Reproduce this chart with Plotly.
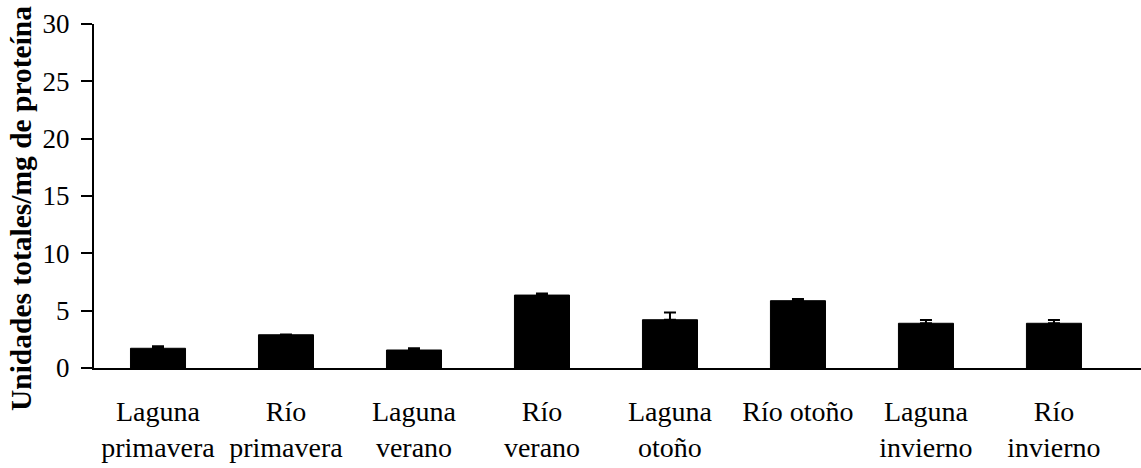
import plotly.graph_objects as go

# Enzyme activity by site and season
categories = [
    "Laguna<br>primavera", "Río<br>primavera", "Laguna<br>verano", "Río<br>verano",
    "Laguna<br>otoño", "Río otoño", "Laguna<br>invierno", "Río<br>invierno",
]
means = [1.72, 2.90, 1.57, 6.36, 4.21, 5.87, 3.90, 3.90]
errors = [0.17, 0.03, 0.15, 0.14, 0.64, 0.15, 0.28, 0.28]
y_ticks = [0, 5, 10, 15, 20, 25, 30]

FONT = "Liberation Serif, Times New Roman, serif"

fig = go.Figure(
    go.Bar(
        x=list(range(len(categories))),
        y=means,
        width=0.43,
        marker=dict(color="black", line=dict(color="black", width=1)),
        error_y=dict(type="data", array=errors, symmetric=False, arrayminus=[0] * len(errors),
                     color="black", thickness=2, width=6, visible=True),
    )
)

fig.update_layout(
    width=1141, height=468,
    margin=dict(l=94, r=0, t=24, b=100),
    paper_bgcolor="white", plot_bgcolor="white",
    showlegend=False,
    font=dict(family=FONT, color="black", size=28),
    xaxis=dict(
        tickmode="array", tickvals=list(range(len(categories))), ticktext=categories,
        range=[-0.5, 7.68], showline=True, linecolor="black", linewidth=2,
        ticks="", showgrid=False, zeroline=False,
        tickfont=dict(family=FONT, size=28, color="black"),
        ticklabelstandoff=17,
    ),
    yaxis=dict(
        range=[0, 30], tickvals=y_ticks, showline=True, linecolor="black", linewidth=2,
        ticks="outside", ticklen=11, tickwidth=2, tickcolor="black",
        showgrid=False, zeroline=False,
        tickfont=dict(family=FONT, size=27, color="black"),
        ticklabelstandoff=6,
    ),
    annotations=[
        dict(text="<b>Unidades totales/mg de proteína</b>", textangle=-90,
             xref="paper", yref="paper", x=0, y=0.462, xshift=-73,
             xanchor="center", yanchor="middle", showarrow=False,
             font=dict(family=FONT, size=29.5, color="black")),
    ],
)

fig.write_html("out.html")
